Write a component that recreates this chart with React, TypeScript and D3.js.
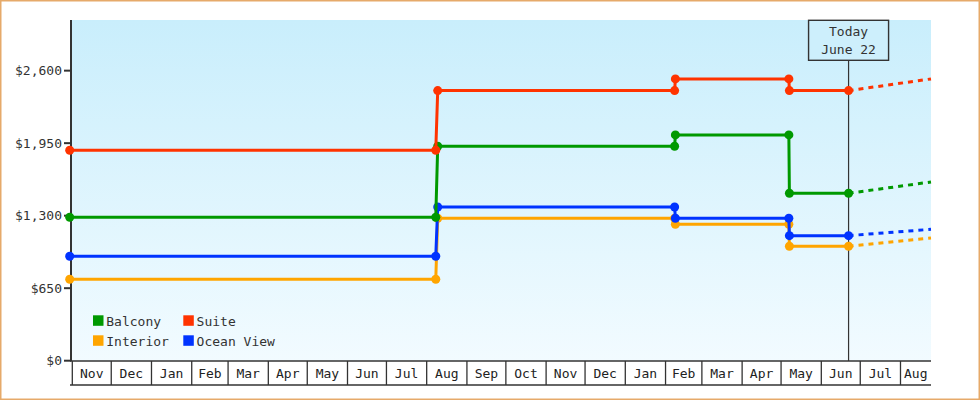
import React from "react";
import * as d3 from "d3";

// ---------- data ----------
const seriesNames = ["Balcony", "Suite", "Interior", "Ocean View"];
const seriesColors = ["#009900", "#ff3300", "#ffa500", "#0033ff"];
const pointDates = [
  "2012-10-30 00",
  "2013-08-08 00",
  "2013-08-09 12",
  "2014-02-08 00",
  "2014-02-08 14",
  "2014-05-07 00",
  "2014-05-07 10",
  "2014-06-22 00",
];
const balcony = [1286, 1286, 1922, 1922, 2024, 2024, 1501, 1501];
const suite = [1886, 1886, 2421, 2421, 2526, 2526, 2421, 2421];
const interior = [730, 730, 1277, 1277, 1223, 1223, 1026, 1026];
const oceanView = [936, 936, 1378, 1378, 1277, 1277, 1121, 1121];
const projectedEnd = [1602, 2526, 1100, 1178]; // Balcony, Suite, Interior, Ocean View
const domainStart = "2012-11-01 00";
const domainEnd = "2014-08-24 12";
const todayDate = "2014-06-22 00";
const todayLabel = ["Today", "June 22"];
const yTicks = [0, 650, 1300, 1950, 2600];
const yMax = 3054;

const parse = d3.timeParse("%Y-%m-%d %H");
const fmtMoney = (v: number) => "$" + d3.format(",")(v);
const monthFmt = d3.timeFormat("%b");

const FONT = "'DejaVu Sans Mono', monospace";
const TEXT = "#333";

export default function App() {
  React.useEffect(() => {
    document.body.style.margin = "0";
  }, []);

  const left = 72.3;
  const right = 931;
  const top = 20;
  const bottom = 360.7;

  const x = d3.scaleTime().domain([parse(domainStart)!, parse(domainEnd)!]).range([left, right]);
  const y = d3.scaleLinear().domain([0, yMax]).range([bottom, top]);

  const dates = pointDates.map((d) => parse(d)!);
  const valuesBy: Record<string, number[]> = {
    Balcony: balcony,
    Suite: suite,
    Interior: interior,
    "Ocean View": oceanView,
  };
  const drawOrder = ["Interior", "Ocean View", "Balcony", "Suite"];

  const line = d3
    .line<[Date, number]>()
    .x((d) => x(d[0]))
    .y((d) => y(d[1]));

  const endDate = parse(domainEnd)!;
  const today = parse(todayDate)!;
  const tx = x(today);

  const months = d3.timeMonth.range(d3.timeMonth.floor(parse(domainStart)!), endDate);
  const axisTop = 361;
  const axisBottom = 385;

  const legendItems = seriesNames.map((n, i) => ({
    name: n,
    color: seriesColors[i],
    col: i % 2,
    row: Math.floor(i / 2),
  }));

  return (
    <div style={{ position: "absolute", left: 0, top: 0 }}>
      <svg width={980} height={400} style={{ display: "block", background: "#fff" }}>
        <defs>
          <linearGradient id="bg" x1="0" y1="0" x2="0" y2="1">
            <stop offset="0" stopColor="#c9eefc" />
            <stop offset="1" stopColor="#f2fbff" />
          </linearGradient>
        </defs>
        <rect x={0.75} y={0.75} width={978.5} height={398.5} fill="#fff" stroke="#e6aa6a" strokeWidth={1.5} />
        <rect x={left - 1} y={top} width={right - left + 1} height={axisTop - top} fill="url(#bg)" />

        {/* y axis */}
        <line x1={71} x2={71} y1={top} y2={axisTop} stroke={TEXT} strokeWidth={2} />
        {yTicks.map((t) => (
          <g key={t}>
            <line x1={64} x2={71} y1={y(t)} y2={y(t)} stroke={TEXT} strokeWidth={2} />
            <text
              x={62}
              y={y(t)}
              dy="0.36em"
              textAnchor="end"
              fontFamily={FONT}
              fontSize={13}
              fill={TEXT}
            >
              {fmtMoney(t)}
            </text>
          </g>
        ))}

        {/* x axis month boxes */}
        <line x1={70} x2={right} y1={axisTop} y2={axisTop} stroke={TEXT} strokeWidth={1.5} />
        <line x1={70} x2={right} y1={axisBottom} y2={axisBottom} stroke={TEXT} strokeWidth={1.5} />
        {months.map((m, i) => {
          const next = d3.timeMonth.offset(m, 1);
          const x0 = Math.max(x(m), left);
          const x1 = Math.min(x(next), right);
          return (
            <g key={i}>
              <line x1={x0} x2={x0} y1={axisTop} y2={axisBottom} stroke={TEXT} strokeWidth={1.3} />
              <text
                x={(x0 + x1) / 2}
                y={377.5}
                textAnchor="middle"
                fontFamily={FONT}
                fontSize={13}
                fill="#222"
              >
                {monthFmt(m)}
              </text>
            </g>
          );
        })}

        {/* today marker */}
        <line x1={tx} x2={tx} y1={60.3} y2={axisTop} stroke={TEXT} strokeWidth={1.2} />
        <rect x={tx - 40} y={20.3} width={80} height={40} fill="#cdeffc" stroke={TEXT} strokeWidth={1.4} />
        <text x={tx} y={36.3} textAnchor="middle" fontFamily={FONT} fontSize={13} fill={TEXT}>
          {todayLabel[0]}
        </text>
        <text x={tx} y={54.3} textAnchor="middle" fontFamily={FONT} fontSize={13} fill={TEXT}>
          {todayLabel[1]}
        </text>

        {/* series */}
        {drawOrder.map((name) => {
          const i = seriesNames.indexOf(name);
          const color = seriesColors[i];
          const vals = valuesBy[name];
          const pts: [Date, number][] = dates.map((d, k) => [d, vals[k]]);
          const last = pts[pts.length - 1];
          const proj: [Date, number][] = [last, [endDate, projectedEnd[i]]];
          return (
            <g key={name}>
              <path d={line(proj)!} fill="none" stroke={color} strokeWidth={3} strokeDasharray="5,5" />
              <path d={line(pts)!} fill="none" stroke={color} strokeWidth={3} />
              {pts.map((p, k) => (
                <circle key={k} cx={x(p[0])} cy={y(p[1])} r={4.5} fill={color} />
              ))}
            </g>
          );
        })}

        {/* legend */}
        {legendItems.map((it) => {
          const lx = 93 + it.col * 90.3;
          const ly = 315.3 + it.row * 20;
          return (
            <g key={it.name}>
              <rect x={lx} y={ly} width={10.5} height={10.5} fill={it.color} />
              <text x={lx + 13.3} y={ly + 10.3} fontFamily={FONT} fontSize={13} fill={TEXT}>
                {it.name}
              </text>
            </g>
          );
        })}
      </svg>
    </div>
  );
}
